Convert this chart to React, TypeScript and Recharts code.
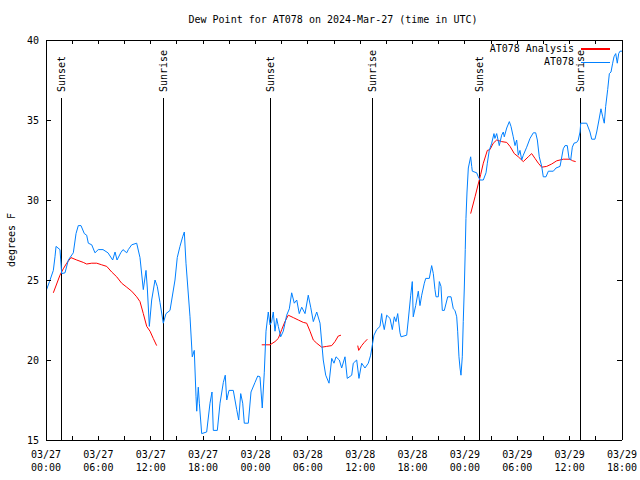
import React from 'react';
import { LineChart, Line, XAxis, YAxis, ReferenceLine, Legend } from 'recharts';

const FONT = '"DejaVu Sans Mono", "Liberation Mono", monospace';
const BLUE = '#0080ff';
const RED = '#ff0000';

const title = 'Dew Point for AT078 on 2024-Mar-27 (time in UTC)';
const yAxisTitle = 'degrees F';
const stationName = 'AT078';
const analysisName = 'AT078 Analysis';

// hours since 03/27 00:00 UTC
const xTicks = [0, 3, 6, 9, 12, 15, 18, 21, 24, 27, 30, 33, 36, 39, 42, 45, 48, 51, 54, 57, 60, 63, 66];
const xLabelDates = ['03/27', '03/27', '03/27', '03/27', '03/28', '03/28', '03/28', '03/28', '03/29', '03/29', '03/29', '03/29'];
const xLabelTimes = ['00:00', '06:00', '12:00', '18:00', '00:00', '06:00', '12:00', '18:00', '00:00', '06:00', '12:00', '18:00'];
const yTicks = [15, 20, 25, 30, 35, 40];

const sunLabels = ['Sunset', 'Sunrise', 'Sunset', 'Sunrise', 'Sunset', 'Sunrise'];
const sunHours = [1.8, 13.43, 25.72, 37.4, 49.65, 61.22];

// observed dew point [hour, degF]
const observed: [number, number][] = [
  [0.0, 24.3], [0.4, 24.9], [0.84, 25.6], [1.03, 26.45], [1.15, 27.1], [1.6, 26.9], [1.8, 25.4], [2.18, 25.45], [2.56, 26.25],
  [3.13, 26.7], [3.44, 27.9], [3.7, 28.4], [4.01, 28.4], [4.39, 27.9], [4.66, 27.8], [4.85, 27.3], [5.24, 27.2],
  [5.61, 26.7], [5.99, 26.9], [6.53, 26.9], [7.1, 26.7], [7.64, 26.25], [7.91, 26.75], [8.14, 26.25], [8.56, 26.7],
  [8.82, 26.9], [9.25, 26.7], [9.43, 26.9], [9.82, 27.2], [10.39, 27.3], [10.77, 26.4], [11.15, 24.4], [11.46, 25.6],
  [11.61, 24.5], [11.84, 22.1], [12.11, 23.75], [12.49, 25.0], [12.75, 24.6], [13.06, 23.6], [13.44, 22.3], [13.75, 22.9],
  [14.21, 23.1], [14.78, 25.0], [15.04, 26.4], [15.35, 27.1], [15.66, 27.7], [15.85, 28.0], [16.04, 26.05], [16.5, 22.7],
  [16.76, 20.2], [16.99, 20.6], [17.19, 17.7], [17.27, 16.8], [17.45, 18.3], [17.57, 17.3], [17.84, 15.4], [18.41, 15.5],
  [18.79, 17.3], [19.02, 18.0], [19.17, 15.6], [19.63, 15.6], [19.94, 17.3], [20.32, 18.6], [20.54, 19.05], [20.71, 17.5],
  [20.97, 18.1], [21.46, 18.1], [21.85, 16.9], [22.08, 16.25], [22.31, 17.9], [22.54, 17.3], [22.72, 16.05], [23.18, 16.05],
  [23.49, 18.0], [23.95, 18.6], [24.26, 19.0], [24.52, 18.95], [24.78, 17.0], [25.01, 19.2], [25.21, 21.8], [25.47, 23.0],
  [25.67, 22.2], [25.86, 22.4], [26.04, 23.0], [26.24, 21.8], [26.43, 22.6], [26.62, 22.1], [26.89, 21.45], [27.19, 21.8],
  [27.58, 22.8], [27.88, 23.2], [28.15, 24.2], [28.45, 23.55], [28.73, 23.75], [29.02, 22.9], [29.3, 23.3], [29.68, 22.9],
  [30.05, 24.05], [30.33, 23.3], [30.63, 22.4], [31.02, 23.0], [31.4, 22.3], [31.77, 20.0], [32.05, 19.05], [32.43, 18.55],
  [32.74, 20.1], [33.0, 19.8], [33.23, 20.2], [33.61, 20.0], [33.88, 19.5], [34.26, 20.2], [34.52, 18.85], [35.03, 19.05],
  [35.21, 19.8], [35.6, 20.0], [35.86, 18.85], [36.17, 19.8], [36.55, 19.5], [36.93, 19.8], [37.2, 20.3], [37.58, 21.55],
  [37.89, 21.9], [38.27, 22.1], [38.46, 22.9], [38.53, 22.5], [38.76, 21.9], [39.04, 22.8], [39.42, 22.6], [39.68, 21.9],
  [39.91, 22.7], [40.1, 22.4], [40.3, 22.9], [40.56, 21.7], [40.68, 21.45], [41.33, 21.55], [41.51, 22.5], [41.79, 24.05],
  [41.97, 24.9], [42.08, 22.7], [42.36, 23.4], [42.66, 24.3], [42.85, 23.4], [43.05, 24.05], [43.35, 24.8], [43.51, 25.1],
  [43.92, 25.1], [44.19, 25.9], [44.38, 25.4], [44.57, 24.4], [44.69, 23.95], [44.95, 23.95], [45.07, 24.9], [45.26, 24.6],
  [45.41, 23.1], [45.64, 23.1], [46.03, 23.95], [46.41, 23.95], [46.67, 23.2], [46.86, 23.1], [47.06, 22.7], [47.17, 21.8],
  [47.32, 20.2], [47.44, 19.5], [47.55, 19.05], [47.7, 20.2], [47.81, 22.4], [47.93, 24.5], [48.04, 26.9], [48.12, 28.85],
  [48.24, 30.5], [48.39, 32.0], [48.66, 32.7], [48.78, 32.1], [48.85, 31.8], [49.35, 31.7], [49.53, 31.45], [49.73, 31.25],
  [50.11, 31.25], [50.42, 31.7], [50.57, 32.3], [50.79, 33.1], [51.07, 33.55], [51.33, 34.15], [51.44, 33.85], [51.64, 34.15],
  [51.94, 33.4], [52.21, 34.05], [52.4, 34.25], [52.51, 33.95], [52.79, 34.5], [53.09, 34.9], [53.28, 34.6], [53.54, 33.95],
  [53.74, 33.4], [53.93, 33.75], [54.12, 32.8], [54.31, 33.1], [54.51, 32.5], [54.69, 32.8], [55.08, 33.3], [55.46, 33.85],
  [55.84, 34.2], [56.11, 34.2], [56.3, 33.75], [56.52, 32.7], [56.8, 32.1], [56.98, 31.45], [57.29, 31.45], [57.56, 31.8],
  [58.13, 31.8], [58.44, 32.0], [58.9, 32.1], [59.27, 33.2], [59.47, 33.4], [59.73, 33.4], [59.93, 32.6], [60.12, 32.5],
  [60.31, 33.3], [60.5, 33.55], [60.81, 33.6], [60.99, 33.75], [61.19, 34.25], [61.27, 34.8], [61.95, 34.8], [62.33, 34.25],
  [62.53, 33.8], [62.9, 33.8], [63.1, 34.25], [63.36, 35.0], [63.59, 35.7], [63.79, 35.2], [63.97, 34.8], [64.13, 35.85],
  [64.36, 36.9], [64.55, 37.9], [64.74, 38.0], [64.93, 38.55], [65.08, 38.95], [65.28, 39.15], [65.46, 38.55], [65.62, 39.15],
  [65.77, 39.3], [66.0, 39.3],
];

// analysis dew point segments [hour, degF]
const analysisSeg1: [number, number][] = [
  [0.84, 24.2], [1.6, 25.3], [1.98, 25.7], [2.37, 26.05], [2.86, 26.4], [3.52, 26.25], [4.27, 26.1], [4.66, 26.0],
  [5.24, 26.05], [5.81, 26.05], [6.38, 25.95], [6.96, 25.85], [7.53, 25.5], [8.1, 25.2], [8.67, 24.8], [9.25, 24.55],
  [9.82, 24.3], [10.39, 23.95], [10.77, 23.65], [11.15, 22.9], [11.54, 22.1], [11.92, 21.8], [12.29, 21.35], [12.68, 20.9],
];
const analysisSeg2: [number, number][] = [
  [24.72, 20.95], [25.67, 20.95], [26.24, 21.15], [26.62, 21.35], [27.01, 21.9], [27.38, 22.4], [27.76, 22.8], [28.34, 22.65],
  [28.91, 22.5], [29.48, 22.35], [29.87, 22.3], [30.25, 21.8], [30.63, 21.25], [31.02, 21.05], [31.59, 20.8], [32.16, 20.85],
  [32.74, 20.9], [33.11, 21.15], [33.49, 21.5], [33.8, 21.55],
];
const analysisSeg3: [number, number][] = [
  [35.72, 20.9], [35.83, 20.6], [36.17, 20.9], [36.47, 21.1], [36.82, 21.3],
];
const analysisSeg4: [number, number][] = [
  [48.66, 29.15], [49.16, 30.2], [49.53, 31.0], [49.81, 31.6], [50.11, 32.3], [50.57, 33.1], [50.87, 33.15], [51.25, 33.55],
  [51.64, 33.75], [52.21, 33.65], [52.79, 33.6], [53.17, 33.35], [53.66, 32.9], [54.12, 32.7], [54.69, 32.4], [55.26, 32.7],
  [55.65, 32.9], [56.03, 32.6], [56.41, 32.3], [56.8, 32.05], [57.37, 32.1], [57.94, 32.25], [58.52, 32.45], [59.27, 32.55],
  [60.04, 32.55], [60.35, 32.45], [60.69, 32.4],
];

const toRows = (arr: [number, number][]) => arr.map(([t, v]) => ({ t, v }));
const analysisSegments = [analysisSeg1, analysisSeg2, analysisSeg3, analysisSeg4];

const textStyle = { fontFamily: FONT, fontSize: 10, fill: '#000' } as const;

const BottomTick = (props: any) => {
  const { x, y, payload } = props;
  const h = payload.value as number;
  const idx = h / 6;
  const labelled = Number.isInteger(idx);
  return (
    <g>
      <line x1={x} x2={x} y1={y} y2={y - 4} stroke="#000" shapeRendering="crispEdges" />
      {labelled && (
        <text x={x} y={y + 18} textAnchor="middle" {...textStyle}>
          {xLabelDates[idx]}
        </text>
      )}
      {labelled && (
        <text x={x} y={y + 31} textAnchor="middle" {...textStyle}>
          {xLabelTimes[idx]}
        </text>
      )}
    </g>
  );
};

const TopTick = (props: any) => {
  const { x, y } = props;
  return <line x1={x} x2={x} y1={y} y2={y + 4} stroke="#000" shapeRendering="crispEdges" />;
};

const LeftTick = (props: any) => {
  const { x, y, payload } = props;
  return (
    <g>
      <line x1={x} x2={x + 5} y1={y} y2={y} stroke="#000" shapeRendering="crispEdges" />
      <text x={x - 7} y={y} textAnchor="end" dominantBaseline="central" {...textStyle}>
        {payload.value}
      </text>
    </g>
  );
};

const RightTick = (props: any) => {
  const { x, y } = props;
  return <line x1={x} x2={x - 5} y1={y} y2={y} stroke="#000" shapeRendering="crispEdges" />;
};

const YTitle = () => (
  <text x={11} y={240} transform="rotate(-90 11 240)" textAnchor="middle" dominantBaseline="central" {...textStyle}>
    {yAxisTitle}
  </text>
);

const makeSunLabel = (text: string) => (props: any) => {
  const vb = props.viewBox || {};
  const x = vb.x;
  const y = (vb.y ?? 98) - 6;
  return (
    <text
      x={x}
      y={y}
      transform={`rotate(-90 ${x} ${y})`}
      textAnchor="start"
      dominantBaseline="central"
      {...textStyle}
    >
      {text}
    </text>
  );
};

const LegendContent = () => (
  <div style={{ position: 'relative', width: 160, height: 32, fontFamily: FONT, fontSize: 10, lineHeight: '12px', color: '#000' }}>
    <div style={{ position: 'absolute', right: 46, top: 3, whiteSpace: 'pre' }}>{analysisName}</div>
    <div style={{ position: 'absolute', left: 121, top: 8, width: 29, height: 2, background: RED }} />
    <div style={{ position: 'absolute', right: 46, top: 16, whiteSpace: 'pre' }}>{stationName}</div>
    <div style={{ position: 'absolute', left: 121, top: 22, width: 29, height: 1, background: BLUE }} />
  </div>
);

export default function App() {
  return (
    <div style={{ position: 'absolute', left: 0, top: 0, width: 640, height: 480, background: '#fff' }}>
      <div
        style={{
          position: 'absolute',
          left: 0,
          top: 14,
          width: 666,
          textAlign: 'center',
          fontFamily: FONT,
          fontSize: 10,
          lineHeight: '12px',
          color: '#000',
          whiteSpace: 'pre',
          zIndex: 2,
        }}
      >
        {title}
      </div>
      <LineChart width={640} height={480} margin={{ top: 0, right: 0, bottom: 0, left: 0 }}>
        <XAxis
          xAxisId="b"
          dataKey="t"
          type="number"
          domain={[0, 66]}
          ticks={xTicks}
          interval={0}
          allowDataOverflow
          height={40}
          tickSize={0}
          tickMargin={0}
          tick={<BottomTick />}
          axisLine={{ stroke: '#000', shapeRendering: 'crispEdges' }}
          tickLine={false}
        />
        <XAxis
          xAxisId="t"
          orientation="top"
          dataKey="t"
          type="number"
          domain={[0, 66]}
          ticks={xTicks}
          interval={0}
          allowDataOverflow
          height={40}
          tickSize={0}
          tickMargin={0}
          tick={<TopTick />}
          axisLine={{ stroke: '#000', shapeRendering: 'crispEdges' }}
          tickLine={false}
        />
        <YAxis
          yAxisId="l"
          type="number"
          domain={[15, 40]}
          ticks={yTicks}
          interval={0}
          allowDataOverflow
          width={46}
          tickSize={0}
          tickMargin={0}
          tick={<LeftTick />}
          axisLine={{ stroke: '#000', shapeRendering: 'crispEdges' }}
          tickLine={false}
          label={<YTitle />}
        />
        <YAxis
          yAxisId="r"
          orientation="right"
          type="number"
          domain={[15, 40]}
          ticks={yTicks}
          interval={0}
          allowDataOverflow
          width={18}
          tickSize={0}
          tickMargin={0}
          tick={<RightTick />}
          axisLine={{ stroke: '#000', shapeRendering: 'crispEdges' }}
          tickLine={false}
        />
        {sunHours.map((h, i) => (
          <ReferenceLine
            key={`sun-${i}`}
            xAxisId="b"
            yAxisId="l"
            segment={[{ x: h, y: 36.375 }, { x: h, y: 15 }]}
            stroke="#000"
            strokeWidth={1}
            shapeRendering="crispEdges"
            label={makeSunLabel(sunLabels[i])}
            ifOverflow="visible"
          />
        ))}
        {analysisSegments.map((seg, i) => (
          <Line
            key={`an-${i}`}
            xAxisId="b"
            yAxisId="l"
            data={toRows(seg)}
            dataKey="v"
            name={analysisName}
            type="linear"
            stroke={RED}
            strokeWidth={1}
            dot={false}
            activeDot={false}
            isAnimationActive={false}
            legendType={i === 0 ? 'line' : 'none'}
          />
        ))}
        <Line
          xAxisId="b"
          yAxisId="l"
          data={toRows(observed)}
          dataKey="v"
          name={stationName}
          type="linear"
          stroke={BLUE}
          strokeWidth={1}
          dot={false}
          activeDot={false}
          isAnimationActive={false}
        />
        <Legend
          layout="vertical"
          align="center"
          verticalAlign="middle"
          content={<LegendContent />}
          wrapperStyle={{ position: 'absolute', left: 460, top: 40, width: 160, height: 32, margin: 0, padding: 0 }}
        />
      </LineChart>
    </div>
  );
}
